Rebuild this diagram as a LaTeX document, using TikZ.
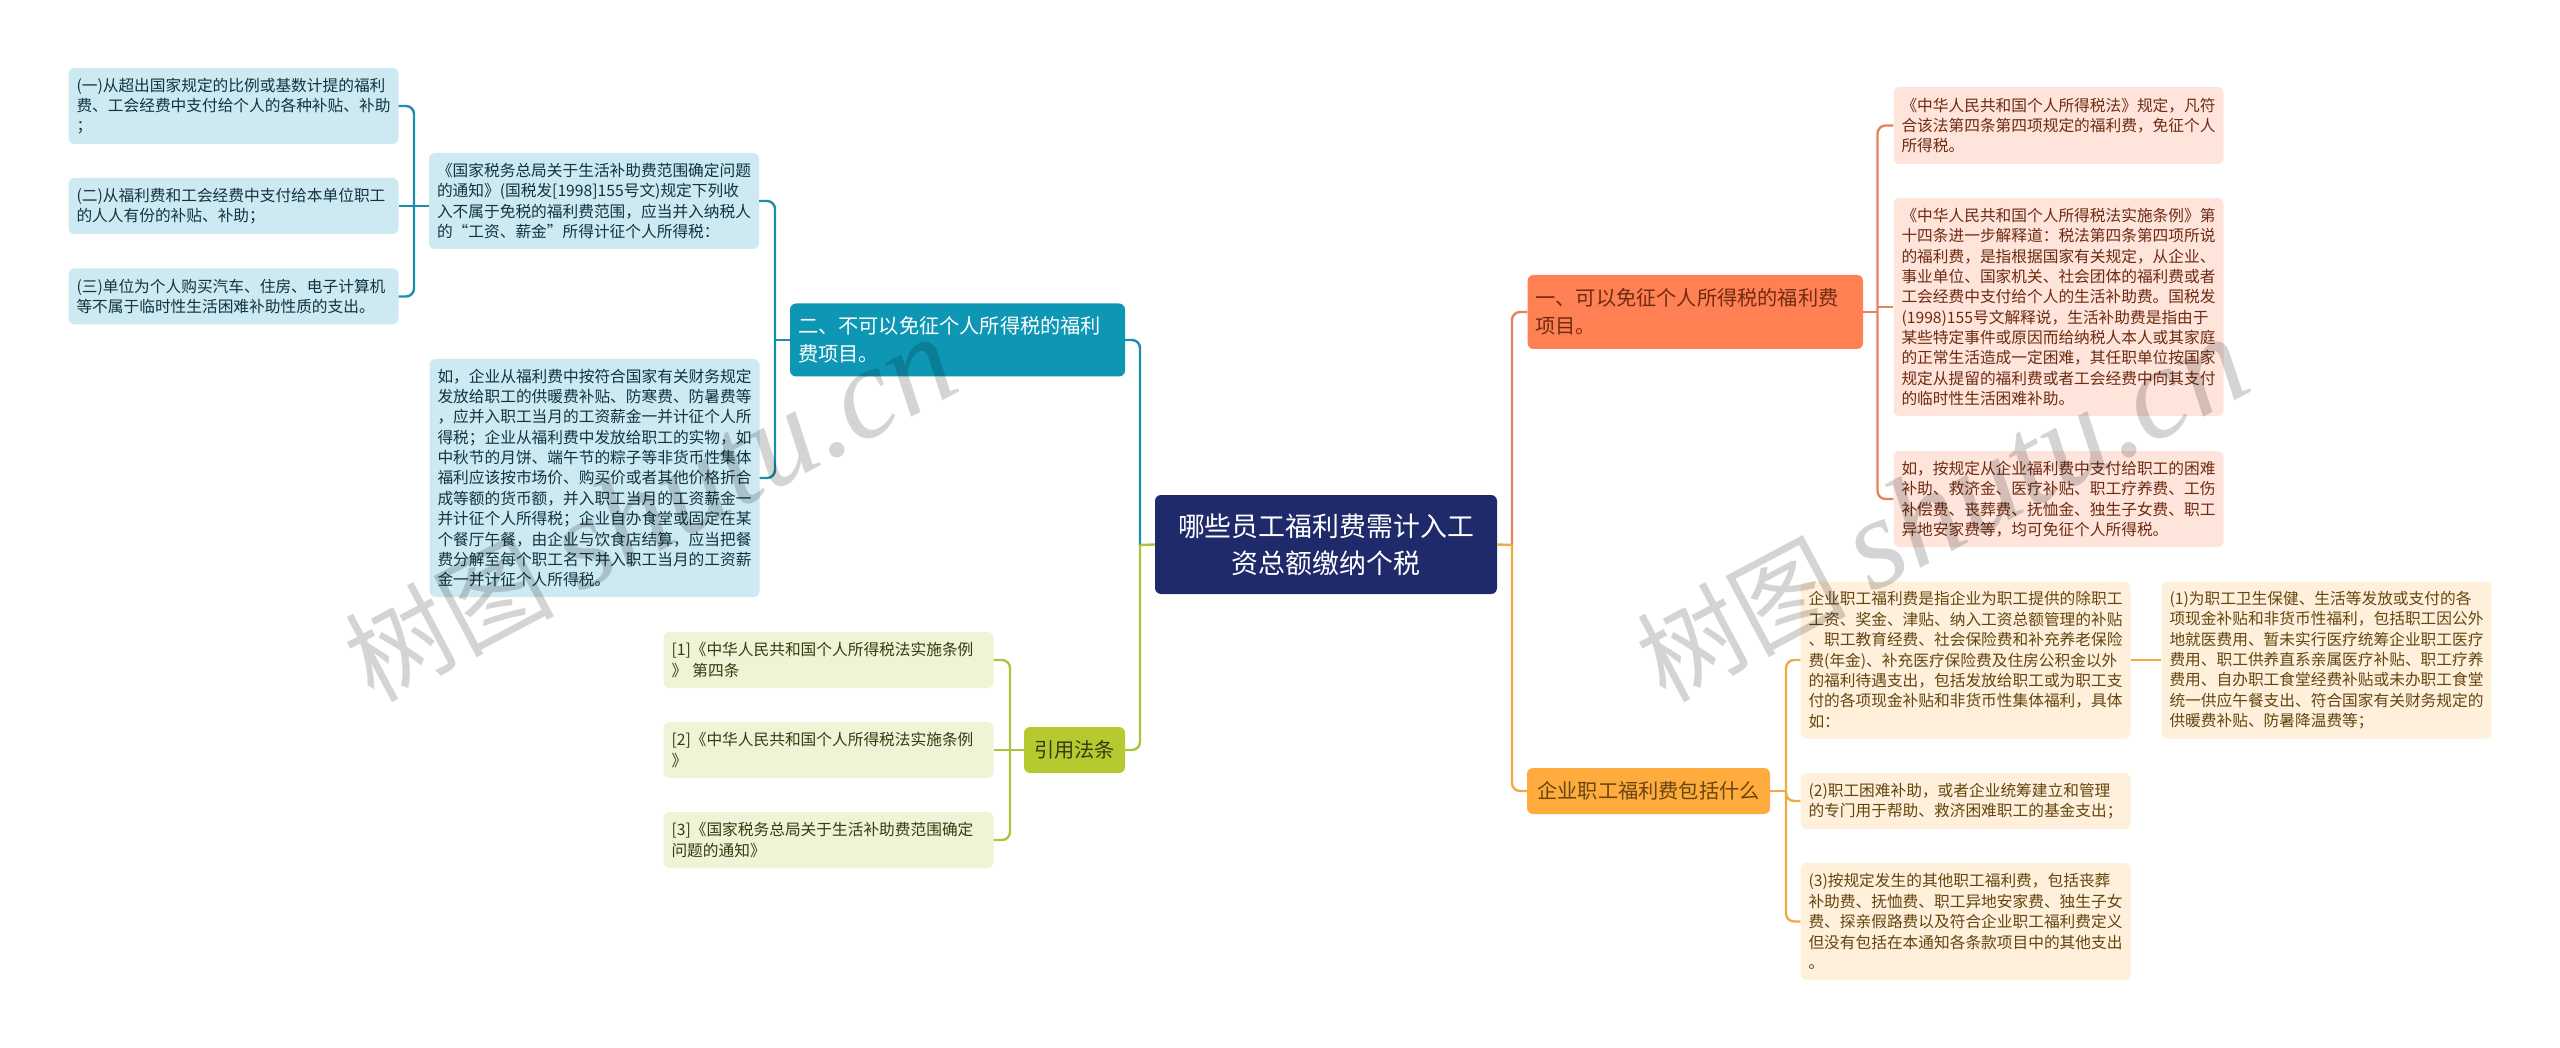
\documentclass[tikz,border=0pt]{standalone}
\usepackage{fontspec}
\setmainfont{Noto Sans CJK SC}
\newfontfamily\markfont{Liberation Serif}

\definecolor{rootblue}{HTML}{1F2A6B}
\definecolor{tealfill}{HTML}{0E97B5}
\definecolor{tealline}{HTML}{1A8EAC}
\definecolor{tealpale}{HTML}{CDE9F1}
\definecolor{tealink}{HTML}{0F3540}
\definecolor{limefill}{HTML}{B6C92F}
\definecolor{limeline}{HTML}{AEC33C}
\definecolor{limepale}{HTML}{EFF4D6}
\definecolor{limeink}{HTML}{363C10}
\definecolor{coralfill}{HTML}{FF8153}
\definecolor{coralline}{HTML}{E5835C}
\definecolor{coralpale}{HTML}{FEE4DB}
\definecolor{coralink}{HTML}{6E2B12}
\definecolor{amberfill}{HTML}{FFAB3D}
\definecolor{amberline}{HTML}{F0AA48}
\definecolor{amberpale}{HTML}{FEF0DA}
\definecolor{amberink}{HTML}{654510}

\tikzset{
	leafbox/.style={rectangle, rounded corners=6pt, align=left, text width=314pt, inner xsep=8pt, inner ysep=0pt,
		font=\fontsize{15.7}{20.35}\selectfont},
	tealleaf/.style={leafbox, fill=tealpale, text=tealink},
	limeleaf/.style={leafbox, fill=limepale, text=limeink},
	coralleaf/.style={leafbox, fill=coralpale, text=coralink},
	amberleaf/.style={leafbox, fill=amberpale, text=amberink},
	topicbox/.style={rectangle, rounded corners=6pt, align=left, inner xsep=8pt, inner ysep=0pt,
		font=\fontsize{20.2}{27.7}\selectfont},
	link/.style={line width=2.4pt, rounded corners=8pt},
}

\begin{document}
\begin{tikzpicture}[x=1pt, y=-1pt]
	\useasboundingbox (0, 0) rectangle (2560, 1048);

	\coordinate (rootL) at (1140, 545);
	\coordinate (rootR) at (1512, 545);
	\coordinate (tealTrunk) at (775, 340);
	\coordinate (leafTrunk) at (414, 206);
	\coordinate (limeTrunk) at (1010, 750);
	\coordinate (coralTrunk) at (1877.5, 307);
	\coordinate (amberTrunk) at (1786, 791);

	\node[rectangle, rounded corners=6pt, fill=rootblue, text=white, align=center, minimum width=342pt, minimum height=99pt,
		font=\fontsize{26.9}{36.7}\selectfont] (root) at (1326, 544.5)
		{哪些员工福利费需计入工\\资总额缴纳个税};

	\node[topicbox, fill=tealfill, text=white, text width=319pt, minimum height=73pt] (twoTopic) at (957.5, 340)
		{二、不可以免征个人所得税的福利\\费项目。};
	\node[topicbox, fill=limefill, text=limeink, align=center, minimum width=101pt, minimum height=46pt] (lawTopic) at (1074.5, 750)
		{引用法条};
	\node[topicbox, fill=coralfill, text=coralink, text width=319.5pt, minimum height=74pt] (oneTopic) at (1695.25, 312)
		{一、可以免征个人所得税的福利费\\项目。};
	\node[topicbox, fill=amberfill, text=amberink, align=center, minimum width=243pt, minimum height=46pt] (whatTopic) at (1648.5, 791)
		{企业职工福利费包括什么};

	\node[tealleaf, minimum height=76pt] (itemOne) at (233.5, 106)
		{(一)从超出国家规定的比例或基数计提的福利\\费、工会经费中支付给个人的各种补贴、补助\\；};
	\node[tealleaf, minimum height=56pt] (itemTwo) at (233.5, 206)
		{(二)从福利费和工会经费中支付给本单位职工\\的人人有份的补贴、补助；};
	\node[tealleaf, minimum height=56pt] (itemThree) at (233.5, 296.5)
		{(三)单位为个人购买汽车、住房、电子计算机\\等不属于临时性生活困难补助性质的支出。};
	\node[tealleaf, minimum height=96pt] (noticeLeaf) at (594, 201)
		{《国家税务总局关于生活补助费范围确定问题\\的通知》(国税发[1998]155号文)规定下列收\\入不属于免税的福利费范围，应当并入纳税人\\的“工资、薪金”所得计征个人所得税：};
	\node[tealleaf, minimum height=238pt] (exampleLeaf) at (594.5, 478)
		{如，企业从福利费中按符合国家有关财务规定\\发放给职工的供暖费补贴、防寒费、防暑费等\\，应并入职工当月的工资薪金一并计征个人所\\得税；企业从福利费中发放给职工的实物，如\\中秋节的月饼、端午节的粽子等非货币性集体\\福利应该按市场价、购买价或者其他价格折合\\成等额的货币额，并入职工当月的工资薪金一\\并计征个人所得税；企业自办食堂或固定在某\\个餐厅午餐，由企业与饮食店结算，应当把餐\\费分解至每个职工名下并入职工当月的工资薪\\金一并计征个人所得税。};

	\node[limeleaf, minimum height=56pt] (lawOne) at (828.5, 660)
		{[1]《中华人民共和国个人所得税法实施条例\\》 第四条};
	\node[limeleaf, minimum height=56pt] (lawTwo) at (828.5, 750)
		{[2]《中华人民共和国个人所得税法实施条例\\》};
	\node[limeleaf, minimum height=56pt] (lawThree) at (828.5, 840)
		{[3]《国家税务总局关于生活补助费范围确定\\问题的通知》};

	\node[coralleaf, minimum height=77pt] (taxLaw) at (2058.5, 125.5)
		{《中华人民共和国个人所得税法》规定，凡符\\合该法第四条第四项规定的福利费，免征个人\\所得税。};
	\node[coralleaf, minimum height=218pt] (taxRule) at (2058.5, 307)
		{《中华人民共和国个人所得税法实施条例》第\\十四条进一步解释道：税法第四条第四项所说\\的福利费，是指根据国家有关规定，从企业、\\事业单位、国家机关、社会团体的福利费或者\\工会经费中支付给个人的生活补助费。国税发\\(1998)155号文解释说，生活补助费是指由于\\某些特定事件或原因而给纳税人本人或其家庭\\的正常生活造成一定困难，其任职单位按国家\\规定从提留的福利费或者工会经费中向其支付\\的临时性生活困难补助。};
	\node[coralleaf, minimum height=96pt] (taxExample) at (2058.5, 499)
		{如，按规定从企业福利费中支付给职工的困难\\补助、救济金、医疗补贴、职工疗养费、工伤\\补偿费、丧葬费、抚恤金、独生子女费、职工\\异地安家费等，均可免征个人所得税。};

	\node[amberleaf, minimum height=157pt] (welfareDef) at (1965.5, 660)
		{企业职工福利费是指企业为职工提供的除职工\\工资、奖金、津贴、纳入工资总额管理的补贴\\、职工教育经费、社会保险费和补充养老保险\\费(年金)、补充医疗保险费及住房公积金以外\\的福利待遇支出，包括发放给职工或为职工支\\付的各项现金补贴和非货币性集体福利，具体\\如：};
	\node[amberleaf, minimum height=56pt] (welfareAid) at (1965.5, 801)
		{(2)职工困难补助，或者企业统筹建立和管理\\的专门用于帮助、救济困难职工的基金支出；};
	\node[amberleaf, minimum height=117pt] (welfareOther) at (1965.5, 921.5)
		{(3)按规定发生的其他职工福利费，包括丧葬\\补助费、抚恤费、职工异地安家费、独生子女\\费、探亲假路费以及符合企业职工福利费定义\\但没有包括在本通知各条款项目中的其他支出\\。};
	\node[amberleaf, minimum height=157pt] (welfareHealth) at (2326.5, 660)
		{(1)为职工卫生保健、生活等发放或支付的各\\项现金补贴和非货币性福利，包括职工因公外\\地就医费用、暂未实行医疗统筹企业职工医疗\\费用、职工供养直系亲属医疗补贴、职工疗养\\费用、自办职工食堂经费补贴或未办职工食堂\\统一供应午餐支出、符合国家有关财务规定的\\供暖费补贴、防暑降温费等；};

	% left side
	\draw[link, tealline] (twoTopic.east) -| (rootL);
	\draw[link, limeline] (lawTopic.east) -| (rootL);
	\draw[link, limeline] (root.west) -- (rootL);
	\draw[link, tealline] (noticeLeaf.east) -| (tealTrunk);
	\draw[link, tealline] (exampleLeaf.east) -| (tealTrunk);
	\draw[link, tealline] (tealTrunk) -- (twoTopic.west);
	\draw[link, tealline] (itemOne.east) -| (leafTrunk);
	\draw[link, tealline] (itemThree.east) -| (leafTrunk);
	\draw[link, tealline] (itemTwo.east) -- (noticeLeaf.west |- itemTwo.east);
	\draw[link, limeline] (lawOne.east) -| (limeTrunk);
	\draw[link, limeline] (lawThree.east) -| (limeTrunk);
	\draw[link, limeline] (lawTwo.east) -- (lawTopic.west);

	% right side
	\draw[link, coralline] (oneTopic.west) -| (rootR);
	\draw[link, amberline] (whatTopic.west) -| (rootR);
	\draw[link, amberline] (root.east) -- (rootR);
	\draw[link, coralline] (taxLaw.west) -| (coralTrunk);
	\draw[link, coralline] (taxExample.west) -| (coralTrunk);
	\draw[link, coralline] (taxRule.west) -- (coralTrunk);
	\draw[link, coralline] (oneTopic.east) -- (coralTrunk |- oneTopic.east);
	\draw[link, amberline] (welfareDef.west) -| (amberTrunk);
	\draw[link, amberline] (welfareAid.west) -| (amberTrunk);
	\draw[link, amberline] (welfareOther.west) -| (amberTrunk);
	\draw[link, amberline] (whatTopic.east) -- (amberTrunk);
	\draw[link, amberline] (welfareDef.east) -- (welfareHealth.west);

	\foreach \markx/\markname in {650/markLeft, 1942/markRight}
		\node[rotate=28, black, opacity=0.17, font=\fontsize{105}{105}\selectfont] (\markname) at (\markx, 510)
			{树图 {\markfont\itshape\fontsize{130}{130}\selectfont shutu.cn}};
\end{tikzpicture}
\end{document}
